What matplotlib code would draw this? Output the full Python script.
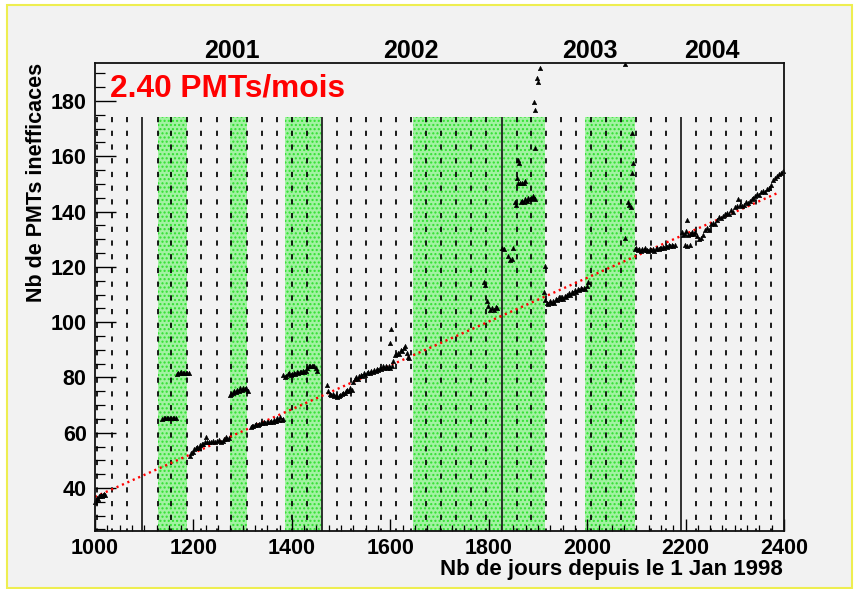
import matplotlib
matplotlib.use('Agg')
import matplotlib.pyplot as plt
import pandas as pd
from matplotlib.patches import Rectangle
from matplotlib.ticker import MultipleLocator
from matplotlib.transforms import blended_transform_factory

plt.rcParams['font.family'] = ['Liberation Sans', 'DejaVu Sans']
plt.rcParams['font.weight'] = 'bold'

# ---------------- data ----------------
days_2000 = [1000, 1002, 1004, 1006, 1008, 1010, 1012, 1014, 1016, 1018, 1020]
pmts_2000 = [35.0, 35.5, 36.5, 36.0, 37.0, 37.0, 37.5, 37.0, 37.5, 38.0, 37.5]

days_2001 = [1137, 1140, 1143, 1146, 1149, 1152, 1155, 1158, 1161, 1164,
             1166, 1169, 1172, 1175, 1178, 1181, 1184, 1187, 1190,
             1193, 1196, 1199, 1202, 1205, 1208, 1211, 1214, 1217, 1220, 1223, 1225,
             1228, 1232, 1236, 1240, 1244, 1248, 1252, 1256, 1260, 1263, 1266, 1269, 1272,
             1274, 1277, 1280, 1283, 1286, 1289, 1292, 1295, 1298, 1301, 1304, 1307, 1310,
             1316, 1319, 1322, 1325, 1328, 1331, 1334, 1337, 1340, 1343, 1346, 1349,
             1352, 1355, 1358, 1361, 1364, 1367, 1370, 1373, 1376, 1379, 1382,
             1383, 1386, 1389, 1392, 1395, 1398, 1401, 1404, 1407, 1410, 1413, 1416,
             1419, 1422, 1425, 1428, 1431, 1434, 1437, 1440, 1443, 1446, 1449, 1451]
pmts_2001 = [65.0, 65.3, 65.2, 65.4, 65.2, 65.3, 65.2, 65.4, 65.2, 65.3,
             81.3, 81.6, 81.5, 81.8, 81.6, 81.5, 81.7, 81.5, 81.6,
             51.5, 52.5, 53.0, 54.0, 54.5, 55.0, 54.5, 55.5, 56.0, 56.0, 56.5, 58.5,
             56.5, 56.8, 56.5, 57.0, 56.8, 57.0, 57.2, 56.8, 57.0, 57.8, 58.5, 57.8, 58.2,
             73.5, 74.0, 74.5, 75.0, 74.8, 75.5, 75.2, 76.0, 75.5, 76.2, 75.8, 76.0, 75.0,
             62.0, 62.5, 62.3, 62.8, 63.0, 62.8, 63.2, 63.5, 63.4, 63.8, 63.6, 64.0,
             63.8, 64.0, 64.2, 64.0, 64.5, 64.2, 65.5, 64.5, 65.8, 64.5, 65.0,
             81.0, 80.2, 80.5, 81.2, 81.5, 81.0, 81.3, 81.6, 81.4, 81.8, 81.6, 82.0,
             81.8, 82.2, 82.0, 82.5, 83.5, 84.0, 84.0, 84.2, 84.0, 84.2, 83.5, 82.5]

days_2002 = [1471, 1474, 1477, 1480, 1483, 1486, 1489, 1492, 1495, 1498, 1501, 1504,
             1507, 1510, 1513, 1516, 1519, 1522,
             1525, 1528, 1531, 1534, 1537, 1540, 1543, 1546, 1549, 1552, 1555, 1558,
             1561, 1564, 1567, 1570, 1573, 1576, 1579, 1582, 1585, 1588, 1591, 1594,
             1597, 1600, 1603, 1606, 1609, 1612, 1615, 1618, 1621, 1624, 1627, 1630,
             1633, 1636, 1639, 1599, 1601,
             1790, 1793, 1796, 1799, 1803, 1806, 1810, 1814, 1817,
             1826, 1832, 1840, 1843, 1847, 1850,
             1853, 1856, 1865, 1868, 1871, 1874, 1877, 1880, 1883, 1886, 1889, 1892, 1895,
             1857, 1859, 1863, 1867, 1871, 1874,
             1860, 1861, 1894, 1892, 1894, 1898, 1901, 1905, 1915, 1912]
pmts_2002 = [77.3, 75.0, 74.0, 73.5, 74.0, 73.2, 73.5, 73.0, 73.4, 73.8, 74.0, 74.5,
             74.2, 75.0, 75.5, 75.0, 76.0, 75.5,
             78.5, 79.5, 80.0, 79.5, 80.5, 81.0, 80.5, 81.5, 81.0, 81.5, 82.0, 81.5,
             82.5, 82.0, 82.8, 82.5, 83.0, 82.8, 83.5, 83.2, 84.0, 83.5, 84.0, 83.5,
             84.2, 83.5, 84.0, 86.0, 88.0, 88.5, 89.0, 88.5, 90.0, 89.5, 90.5, 91.5,
             89.0, 87.5, 87.0, 92.5, 97.5,
             114.6, 113.5, 107.5, 106.0, 104.5, 105.0, 104.5, 105.5, 105.0,
             127.0, 126.5, 124.0, 122.5, 123.0, 126.7,
             143.5, 142.5, 143.5, 144.0, 143.5, 144.5, 144.0, 145.0, 144.5, 145.0, 145.5, 145.0, 144.5,
             152.0, 150.5, 150.5, 150.5, 150.5, 151.0,
             158.5, 157.5, 163.0, 179.8, 176.7, 188.5, 187.0, 191.8, 120.4, 110.8]

days_2003 = [1915, 1918, 1921, 1924, 1927, 1930, 1933, 1936, 1939, 1942, 1945, 1948,
             1951, 1954, 1957, 1960, 1963, 1966, 1969, 1972, 1975, 1978, 1981, 1984,
             1987, 1990, 1993, 1996, 1999, 2002,
             2077, 2083, 2086, 2089, 2092, 2093, 2091, 2077,
             2097, 2100, 2103, 2106, 2109, 2112, 2115, 2118, 2121, 2124, 2127, 2130,
             2133, 2136, 2139, 2142, 2145, 2148, 2151, 2154, 2157, 2160, 2163, 2166,
             2169, 2172, 2175, 2178]
pmts_2003 = [108.0, 107.0, 106.5, 107.5, 106.8, 107.5, 107.0, 108.5, 108.0, 109.0, 108.5, 109.0,
             108.5, 109.5, 109.0, 110.0, 110.5, 110.0, 111.0, 110.5, 111.5, 111.0, 112.0, 111.5,
             112.3, 112.0, 112.5, 112.0, 113.0, 114.5,
             130.4, 143.5, 142.5, 141.5, 154.0, 157.5, 168.5, 193.5,
             126.5, 127.0, 126.0, 126.5, 125.8, 126.5, 126.0, 126.8, 126.2, 125.8, 126.5, 126.0,
             126.5, 125.8, 126.3, 126.8, 126.5, 127.0, 126.8, 127.2, 127.0, 127.5, 127.2, 127.8,
             127.5, 127.8, 127.5, 128.0]

days_2004 = [2192, 2195, 2198, 2201, 2202, 2205, 2208, 2211, 2214, 2217, 2220, 2199, 2203, 2208,
             2224, 2228, 2232,
             2236, 2240, 2244, 2248, 2252, 2256, 2260, 2264, 2268, 2272, 2276, 2280,
             2284, 2288, 2292, 2296, 2300, 2304, 2306, 2310, 2314, 2318, 2322, 2326,
             2330, 2334, 2338, 2342, 2346, 2350, 2354, 2358, 2362, 2366, 2370, 2374,
             2378, 2382, 2386, 2390, 2394, 2398]
pmts_2004 = [132.5, 131.5, 132.0, 132.8, 137.0, 131.5, 132.0, 131.8, 132.5, 132.0, 132.5, 128.0, 127.5, 127.8,
             131.0, 130.0, 130.5,
             131.5, 133.5, 134.0, 133.5, 135.5, 136.0, 135.5, 137.0, 138.0, 137.5, 138.5, 139.0,
             139.5, 139.0, 140.5, 140.0, 141.5, 142.0, 144.5, 142.5, 142.0, 142.5, 143.5, 143.0,
             144.0, 144.5, 145.0, 145.5, 146.5, 146.0, 147.0, 147.5, 147.0, 148.0, 148.5, 149.5,
             151.5, 152.0, 153.0, 153.5, 154.0, 154.5]

# linear fit (2.40 PMTs / month), end points
fit_days = [1000, 2388]
fit_pmts = [36.8, 146.8]

# shaded periods (days since 1 Jan 1998)
green_start = [1127, 1275, 1386, 1647, 1996]
green_end = [1187, 1308, 1461, 1915, 2098]

year_labels = ['2001', '2002', '2003', '2004']
year_label_days = [1278, 1642, 2006, 2254]

slope_text = '2.40 PMTs/mois'
xlabel = 'Nb de jours depuis le 1 Jan 1998'
ylabel = 'Nb de PMTs inefficaces'

# ---------------- figure ----------------
W, H = 859, 589
fig = plt.figure(figsize=(W / 100, H / 100), dpi=100, facecolor='white')
fig.patches.append(Rectangle((7 / W, 1.5 / H), 845 / W, 583 / H, transform=fig.transFigure,
                             facecolor='#f2f2f2', edgecolor='#eeee50', linewidth=1.5, zorder=-10))

ax = fig.add_axes([95 / W, 1 - 531 / H, 689 / W, 468 / H])
ax.set_facecolor('none')
ax.set_xlim(1000, 2400)
ax.set_ylim(24.45, 193.75)

line_top = 174.2
line_bot = 24.45

for s, e in zip(green_start, green_end):
    ax.add_patch(Rectangle((s, line_bot), e - s, line_top - line_bot, facecolor='#a2f2a2',
                           edgecolor='#30e030', hatch='....', linewidth=0, zorder=1))

ref = pd.Timestamp('1998-01-01')
months = pd.date_range('2000-10-01', '2004-07-01', freq='MS')
month_days = [(m - ref).days for m in months if m.month != 1]
year_days = [(m - ref).days for m in months if m.month == 1]

ax.vlines(month_days, line_top, line_bot, colors='black', linestyles=(0, (3.0, 4.9)),
          linewidth=1.25, zorder=2)
ax.vlines(year_days, line_top, line_bot, colors='#222222', linewidth=1.3, zorder=2)

ax.plot(fit_days, fit_pmts, color='red', linewidth=1.7, linestyle=(0, (0.9, 1.6)), zorder=3)

all_days = days_2000 + days_2001 + days_2002 + days_2003 + days_2004
all_pmts = pmts_2000 + pmts_2001 + pmts_2002 + pmts_2003 + pmts_2004
ax.plot(all_days, all_pmts, linestyle='none', marker='^', markersize=3.2,
        color='black', markeredgewidth=0.4, zorder=4, clip_on=False)

ax.text(1030, 184.7, slope_text, color='red', fontsize=22.8, fontweight='bold',
        ha='left', va='center', zorder=5)

tr = blended_transform_factory(ax.transData, ax.transAxes)
for lab, d in zip(year_labels, year_label_days):
    ax.text(d, 1.026, lab, transform=tr, ha='center', va='center', fontsize=18,
            fontweight='bold', color='black')

ax.xaxis.set_major_locator(MultipleLocator(200))
ax.xaxis.set_minor_locator(MultipleLocator(25))
ax.yaxis.set_major_locator(MultipleLocator(20))
ax.yaxis.set_minor_locator(MultipleLocator(5))
ax.set_yticks(range(40, 181, 20))

ax.tick_params(which='both', direction='in', top=False, right=False, color='black')
ax.tick_params(axis='x', which='major', length=8.6, width=1.0, labelsize=15.5, pad=5)
ax.tick_params(axis='x', which='minor', length=4.3, width=0.9)
ax.tick_params(axis='y', which='major', length=15, width=1.0, labelsize=15.5, pad=6)
ax.tick_params(axis='y', which='minor', length=7, width=0.9)
for lbl in ax.get_xticklabels() + ax.get_yticklabels():
    lbl.set_fontweight('bold')

for sp in ax.spines.values():
    sp.set_linewidth(1.3)
    sp.set_color('#111111')
    sp.set_zorder(6)

fig.text(783 / W, 1 - 570 / H, xlabel, ha='right', va='center', fontsize=16, fontweight='bold')
fig.text(37 / W, 1 - 63 / H, ylabel, ha='center', va='top', rotation=90, fontsize=15.5,
         fontweight='bold')

fig.savefig('out.png', dpi=100, facecolor=fig.get_facecolor())
